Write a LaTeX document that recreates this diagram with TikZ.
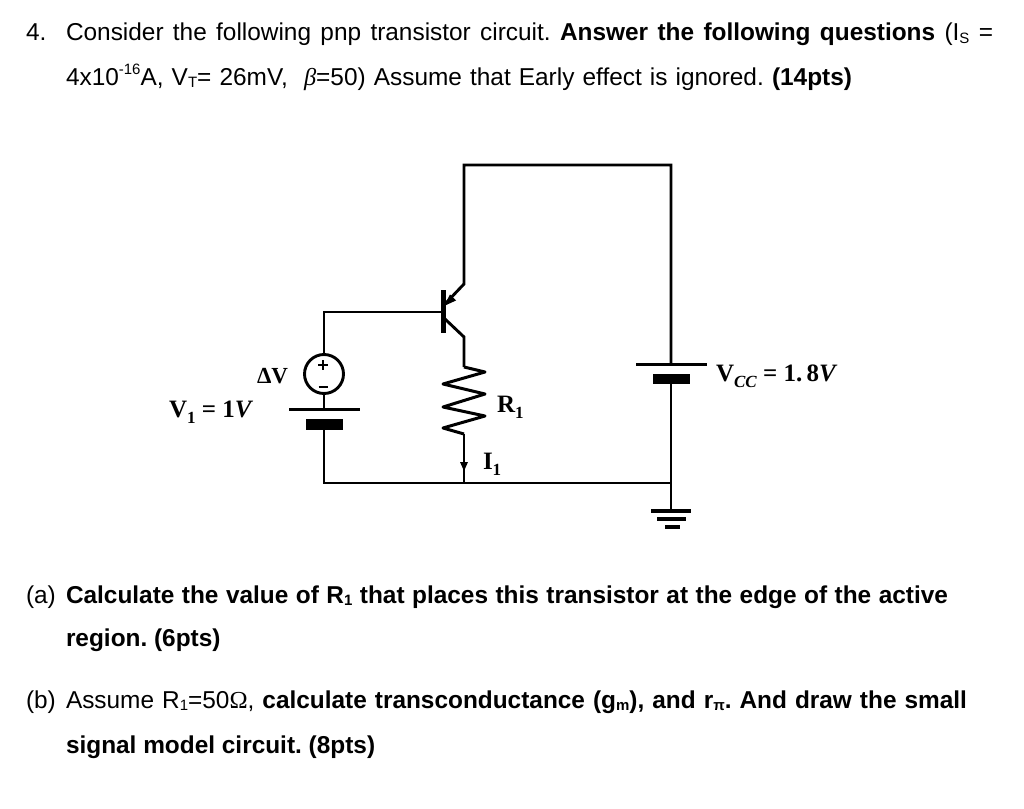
\documentclass[tikz,border=0pt]{standalone}
\usepackage{fontspec}
\setmainfont{Liberation Sans}
\newfontfamily\serifb{Liberation Serif}
\usetikzlibrary{arrows.meta}
\frenchspacing
\newcommand{\tsb}[1]{\raisebox{-0.12em}{\fontsize{15}{15}\selectfont #1}}
\newcommand{\tsp}[1]{\raisebox{0.42em}{\fontsize{15}{15}\selectfont #1}}
\newcommand{\lsb}[1]{\raisebox{-0.25em}{\fontsize{17}{17}\selectfont #1}}
\tikzset{
  wire/.style={line width=2.9pt,line join=miter},
  plate/.style={line width=3pt},
  thickplate/.style={line width=10.5pt},
  gnd/.style={line width=4.5pt},
  txt/.style={anchor=base west,inner sep=0pt,outer sep=0pt,font=\fontsize{24.4}{24.4}\selectfont},
  lbl/.style={anchor=base west,inner sep=0pt,outer sep=0pt,font=\fontsize{25}{25}\selectfont\serifb\bfseries},
}
\begin{document}
\begin{tikzpicture}[x=1pt,y=-1pt]
\useasboundingbox (0,0) rectangle (1024,808);
% text
\node[txt] (n4) at (26,41) {4.};
\node[txt] (l1) at (66,41) {\makebox[927pt][s]{Consider the following pnp transistor circuit. \textbf{Answer the following questions} (I\tsb{S} =}};
\node[txt] (l2) at (66,85) {\makebox[786pt][s]{4x10\tsp{-16}A, V\tsb{T}= 26mV,\ \ {\serifb\itshape β}=50) Assume that Early effect is ignored. \textbf{(14pts)}}};
\node[txt] (la) at (26,603) {(a)};
\node[txt] (l3) at (66,603) {\makebox[882pt][s]{\textbf{Calculate the value of R\tsb{1} that places this transistor at the edge of the active}}};
\node[txt] (l4) at (66,646) {\textbf{region. (6pts)}};
\node[txt] (lb) at (26,708) {(b)};
\node[txt] (l5) at (66,708) {\makebox[901pt][s]{Assume R\tsb{1}=50{\serifb Ω}, \textbf{calculate transconductance (g\tsb{m}), and r\tsb{π}. And draw the small}}};
\node[txt] (l6) at (66,753) {\textbf{signal model circuit. (8pts)}};
% coordinates
\coordinate (tl) at (464,165);
\coordinate (tr) at (671,165);
\coordinate (eknee) at (464,284);
\coordinate (etip) at (445,304);
\coordinate (bartop) at (443,290);
\coordinate (barbot) at (443,333);
\coordinate (base) at (443,312);
\coordinate (bl) at (324,312);
\coordinate (cstart) at (445,319);
\coordinate (cknee) at (464,337);
\coordinate (rtop) at (464,367);
\coordinate (rbot) at (464,434);
\coordinate (junc) at (464,483);
\coordinate (gl) at (324,483);
\coordinate (gr) at (671,483);
\coordinate (v1long) at (324,409);
\coordinate (v1thick) at (324,430);
\coordinate (vcclong) at (671,364);
\coordinate (vccthick) at (671,384);
\coordinate (gtop) at (671,511);
% source
\node[draw,circle,line width=2.9pt,minimum size=39pt,inner sep=0pt] (src) at (324,374) {};
\draw[line width=2.8pt] (318,365) -- (328,365) (323,360) -- (323,370);
\draw[line width=2.4pt] (318.5,387) -- (327.5,387);
% wires
\draw[wire] (vcclong) -- (tr) -- (tl) -- (eknee) -- (etip);
\draw[wire] (base) -- (bl) -- (src.north);
\draw[wire] (src.south) -- (v1long);
\draw[wire] (v1thick) -- (gl) -- (gr);
\draw[wire] (vccthick) -- (gtop);
\draw[wire] (cstart) -- (cknee) -- (rtop);
\draw[line width=5pt] (bartop) -- (barbot);
\fill (444,306) -- (456,300.5) -- (450,294.5) -- cycle;
% resistor
\draw[wire,line width=3pt,line join=round] (rtop) -- (485,372) -- (443,384) -- (485,394) -- (443,407) -- (485,416) -- (443,428) -- (rbot);
\draw[wire] (rbot) -- (junc);
\fill (464,471) -- (460,462) -- (468,462) -- cycle;
% batteries
\draw[plate] (289,409) -- (360,409);
\draw[thickplate] (306,424.5) -- (343,424.5);
\draw[plate] (636,364) -- (707,364);
\draw[thickplate] (653,379) -- (690,379);
% ground
\draw[gnd] (651,511) -- (691,511);
\draw[gnd] (657,519) -- (686,519);
\draw[gnd] (665,527) -- (680,527);
% labels
\node[lbl,font=\fontsize{23}{23}\selectfont\serifb\bfseries] (dv) at (257,383) {ΔV};
\node[lbl] (v1) at (169,417) {V\lsb{1} = 1\textit{V}};
\node[lbl] (r1) at (497,412) {R\lsb{1}};
\node[lbl] (i1) at (483,469) {I\lsb{1}};
\node[lbl] (vcc) at (716,381) {V\lsb{\textit{CC}} = 1.\,8\textit{V}};
\end{tikzpicture}
\end{document}
